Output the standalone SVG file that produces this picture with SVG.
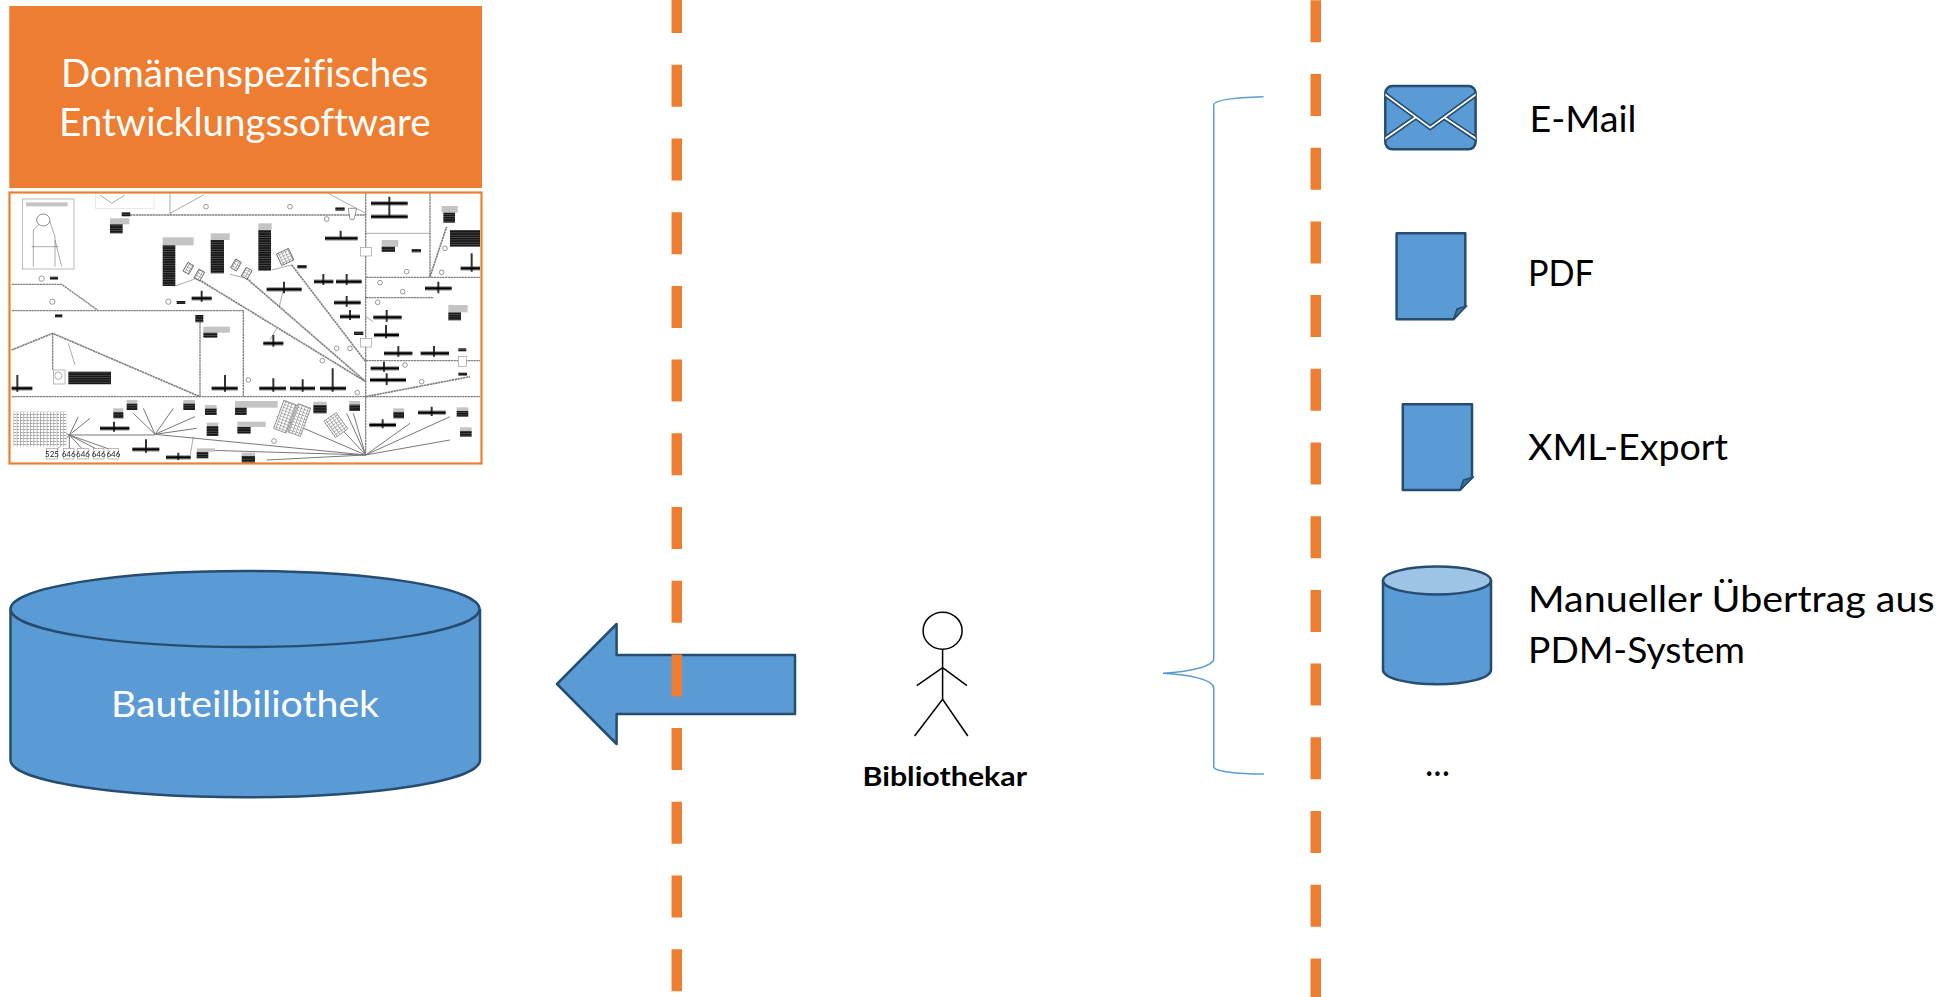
<svg xmlns="http://www.w3.org/2000/svg" width="1959" height="997" viewBox="0 0 1959 997">
<style>
text{font-family:Lato,"Noto Sans","Liberation Sans",sans-serif;font-variant-ligatures:none}
.w{fill:#fff}.k{fill:#000}
.blue{fill:#5B9BD5;stroke:#264D70;stroke-width:2.5;stroke-linejoin:round}
.dash{stroke:#ED7D31;stroke-width:10.5;stroke-dasharray:42 31.7;fill:none}
.st{fill:none;stroke:#000;stroke-width:1.5}
.br{fill:none;stroke:#5B9BD5;stroke-width:1.5}
.g1{fill:none;stroke:#808080;stroke-width:4;stroke-dasharray:7 1.5}
.g2{fill:none;stroke:#777;stroke-width:3}
.g3{fill:none;stroke:#555;stroke-width:1.5}
.bar{stroke:#000;stroke-width:7;fill:none}
.gb{fill:#c4c4c4}
.tb{fill:url(#st)}
.tag{font-size:24px;fill:#222;text-anchor:middle}
.bx{fill:#fff;stroke:#999;stroke-width:2}
</style>
<defs>
<pattern id="st" width="8" height="7" patternUnits="userSpaceOnUse"><rect width="8" height="7" fill="#111"/><rect y="4.500" width="8" height="1.400" fill="#888"/></pattern>
<pattern id="dn" width="10" height="9" patternUnits="userSpaceOnUse"><rect width="10" height="9" fill="#fff"/><rect width="8" height="2" fill="#777"/><rect width="2" height="9" fill="#999"/></pattern>
<clipPath id="cad"><rect x="9" y="192" width="473" height="272"/></clipPath>
<clipPath id="env"><rect x="1385.300" y="86" width="90.300" height="63.300" rx="7"/></clipPath>
<filter id="soft" x="0" y="0" width="100%" height="100%"><feGaussianBlur stdDeviation="1"/></filter>
</defs>
<rect width="1959" height="997" fill="#fff"/>

<g id="software">
<rect x="9.300" y="6" width="472.700" height="182" fill="#ED7D31"/>
<text class="w" font-size="39" x="61" y="87" textLength="367.300" lengthAdjust="spacingAndGlyphs">Domänenspezifisches</text>
<text class="w" font-size="39" x="59" y="136" textLength="371.700" lengthAdjust="spacingAndGlyphs">Entwicklungssoftware</text>
</g>

<g id="cad-drawing">
<rect x="9.500" y="192.500" width="472" height="271" fill="#fff"/>
<g clip-path="url(#cad)"><g transform="scale(.33333)" filter="url(#soft)">
<path class="g1" d="M390 645H1100M1097 580V1365M1290 580V830M1097 832H1440M1097 893H1300M35 853H185L295 932M35 932H730V1190M35 1190H1440M600 960V1190M158 1000V1110M1097 1082H1440"/>
<path class="g1" style="stroke-width:5" d="M35 1050L158 1000L600 1190M590 835L1097 1145M740 835L1097 1145M875 795L1097 1085M1097 1190L1410 1130M1290 830L1340 680"/>
<path class="g2" d="M1097 1365L830 1250M1097 1365L1000 1260M1097 1365L1040 1240M1097 1365L1060 1240M1097 1365L1230 1270M1097 1365L1350 1250M1097 1365L1350 1320M465 1303L1097 1365M600 1350L1097 1365M800 1380L1097 1365M208 1305H465M465 1303L400 1240M465 1303L430 1225M465 1303L520 1225M465 1303L585 1250M465 1303L590 1285M208 1305L235 1250M208 1305L270 1255M208 1305L170 1350M208 1305V1350M208 1305L250 1350M208 1305L295 1350M208 1305L335 1350M208 1305L130 1270"/>
<path class="g3" d="M510 580V645M510 640L610 585M985 580L1097 640M850 868L838 920M525 858L590 835M690 823L740 835M815 810L875 795M1097 700H1290M1097 950L1120 965M205 1030L225 1095M830 985L810 1020M580 1310L570 1370"/>
<g id="tees">
<path fill="none" stroke="#aaa" stroke-width="14" d="M1113 610H1223M1113 650H1223M975 715H1073M800 868H905M575 895H635M942 845H1000M1008 845H1085M1002 908H1082M1020 950H1080M1120 952H1205M1122 1005H1197M1275 865H1355M1152 1060H1237M1262 1060H1347M1112 1105H1197M1110 1140H1218M790 1030H850M635 1165H713M778 1165H858M870 1165H945M960 1165H1038M35 1165H97M300 1285H388M397 1348H478M498 1372H572M1108 1275H1188M1254 1238H1337M1382 805H1440"/>
<path fill="none" stroke="#333" stroke-width="6" d="M1168 590V650M1022 692V715M852 845V880M605 872V905M970 822V855M1040 822V855M1040 888V920M1050 930V960M1160 930V965M1158 975V1015M1315 845V880M1195 1038V1070M1302 1038V1070M1152 1085V1115M1160 1120V1155M820 1005V1040M675 1125V1175M820 1135V1175M908 1138V1175M998 1105V1175M52 1125V1175M342 1265V1295M438 1318V1358M535 1358V1380M1148 1258V1285M1295 1220V1248M1415 760V815"/>
<path class="bar" d="M1113 610H1223M1113 650H1223M975 715H1073M800 868H905M575 895H635M942 845H1000M1008 845H1085M1002 908H1082M1020 950H1080M1120 952H1205M1122 1005H1197M1275 865H1355M1152 1060H1237M1262 1060H1347M1112 1105H1197M1110 1140H1218M790 1030H850M635 1165H713M778 1165H858M870 1165H945M960 1165H1038M35 1165H97M300 1285H388M397 1348H478M498 1372H572M1108 1275H1188M1254 1238H1337M1382 805H1440"/>
</g>
<g id="blocks">
<rect class="gb" x="488" y="712" width="93" height="24"/><rect class="gb" x="632" y="700" width="57" height="20"/><rect class="gb" x="775" y="670" width="40" height="20"/><rect class="gb" x="610" y="980" width="80" height="18"/><rect class="gb" x="705" y="1203" width="128" height="20"/><rect class="gb" x="712" y="1265" width="85" height="16"/><rect class="gb" x="330" y="655" width="58" height="18"/><rect class="gb" x="1325" y="618" width="48" height="20"/><rect class="gb" x="1145" y="720" width="50" height="20"/><rect class="gb" x="1345" y="915" width="58" height="22"/>
<rect class="tb" x="488" y="736" width="38" height="122"/><rect class="tb" x="632" y="720" width="40" height="100"/><rect class="tb" x="775" y="690" width="38" height="122"/><rect class="tb" x="330" y="673" width="38" height="27"/><rect class="tb" x="1330" y="638" width="35" height="30"/><rect class="tb" x="1145" y="740" width="40" height="16"/><rect class="tb" x="1345" y="937" width="38" height="24"/><rect class="tb" x="1350" y="690" width="90" height="50"/><rect class="tb" x="205" y="1115" width="128" height="38"/><rect class="tb" x="610" y="998" width="42" height="15"/><rect class="tb" x="705" y="1223" width="35" height="22"/><rect class="tb" x="712" y="1281" width="40" height="20"/><rect class="tb" x="940" y="1215" width="40" height="25"/><rect class="tb" x="1048" y="1213" width="32" height="20"/><rect class="tb" x="340" y="1235" width="30" height="20"/><rect class="tb" x="380" y="1210" width="32" height="20"/><rect class="tb" x="550" y="1210" width="35" height="20"/><rect class="tb" x="615" y="1225" width="35" height="20"/><rect class="tb" x="620" y="1278" width="35" height="30"/><rect class="tb" x="590" y="1355" width="35" height="20"/><rect class="tb" x="725" y="1368" width="40" height="20"/><rect class="tb" x="1180" y="1235" width="32" height="20"/><rect class="tb" x="1370" y="1232" width="35" height="18"/><rect class="tb" x="1380" y="1292" width="35" height="18"/>
<g fill="#c4c4c4"><rect x="940" y="1205" width="40" height="10"/><rect x="1048" y="1203" width="32" height="10"/><rect x="340" y="1225" width="30" height="10"/><rect x="380" y="1200" width="32" height="10"/><rect x="550" y="1200" width="35" height="10"/><rect x="615" y="1215" width="35" height="10"/><rect x="620" y="1268" width="35" height="10"/><rect x="590" y="1345" width="55" height="10"/><rect x="725" y="1358" width="40" height="10"/><rect x="1180" y="1225" width="32" height="10"/><rect x="1370" y="1222" width="35" height="10"/><rect x="1380" y="1282" width="35" height="10"/></g>
<g fill="url(#dn)" stroke="#444" stroke-width="2"><rect transform="rotate(30 565 805)" x="555" y="790" width="20" height="30"/><rect transform="rotate(30 598 825)" x="588" y="810" width="20" height="30"/><rect transform="rotate(30 708 795)" x="698" y="780" width="20" height="30"/><rect transform="rotate(30 740 820)" x="730" y="805" width="20" height="30"/><rect transform="rotate(-25 855 770)" x="835" y="752" width="40" height="38"/></g>
<rect fill="url(#dn)" stroke="#777" stroke-width="2" transform="rotate(20 855 1250)" x="835" y="1205" width="40" height="90"/><rect fill="url(#dn)" stroke="#777" stroke-width="2" transform="rotate(20 898 1260)" x="878" y="1215" width="40" height="90"/><rect fill="url(#dn)" stroke="#777" stroke-width="2" transform="rotate(-35 1008 1275)" x="985" y="1245" width="45" height="60"/>
<rect fill="url(#dn)" x="40" y="1235" width="160" height="105"/>
</g>
<g id="details">
<rect x="68" y="597" width="154" height="210" fill="#fff" stroke="#999" stroke-width="2"/>
<path class="g3" d="M100 800V690L125 665H150L165 710V800M95 740H175M185 800L165 720"/>
<ellipse cx="130" cy="660" rx="20" ry="18" fill="#fff" stroke="#555" stroke-width="2"/>
<rect class="gb" x="78" y="607" width="125" height="12"/>
<rect x="287" y="575" width="175" height="50" fill="#fff" stroke="#ddd" stroke-width="2"/>
<path class="g3" d="M300 585L335 610L375 585"/>
<rect x="160" y="1110" width="35" height="42" class="bx"/><circle cx="175" cy="1127" r="11" fill="none" stroke="#888" stroke-width="2"/>
<rect x="1082" y="742" width="32" height="26" class="bx"/><rect x="1082" y="1015" width="32" height="26" class="bx"/><rect x="1375" y="1070" width="24" height="30" class="bx"/>
<g fill="#fff" stroke="#666" stroke-width="2"><circle cx="125" cy="836" r="8"/><circle cx="157" cy="905" r="8"/><circle cx="505" cy="905" r="8"/><circle cx="618" cy="620" r="7"/><circle cx="870" cy="620" r="7"/><circle cx="980" cy="657" r="7"/><circle cx="1140" cy="848" r="7"/><circle cx="1133" cy="907" r="7"/><circle cx="1208" cy="875" r="7"/><circle cx="1220" cy="815" r="7"/><circle cx="1335" cy="745" r="7"/><circle cx="1010" cy="1045" r="7"/><circle cx="1050" cy="1045" r="7"/><circle cx="967" cy="1082" r="7"/><circle cx="745" cy="1140" r="7"/><circle cx="1072" cy="1178" r="7"/><circle cx="1215" cy="1095" r="7"/><circle cx="1265" cy="1145" r="7"/><circle cx="822" cy="1323" r="7"/><circle cx="1325" cy="817" r="7"/></g>
<path fill="#fff" stroke="#666" stroke-width="2" d="M1045 625H1070L1062 658H1050Z"/>
<rect class="tb" x="1006" y="622" width="28" height="10"/><rect class="tb" x="365" y="637" width="26" height="12"/><rect class="tb" x="150" y="830" width="24" height="9"/><rect class="tb" x="530" y="903" width="26" height="9"/><rect class="tb" x="165" y="943" width="22" height="9"/><rect class="tb" x="586" y="945" width="24" height="22"/><rect class="tb" x="1062" y="995" width="28" height="10"/><rect class="tb" x="1235" y="747" width="28" height="10"/><rect class="tb" x="892" y="795" width="28" height="10"/><rect class="tb" x="1375" y="1045" width="24" height="9"/><rect class="tb" x="1375" y="1118" width="26" height="9"/>
<g class="bx"><rect x="140" y="1345" width="32" height="32"/><rect x="190" y="1345" width="32" height="32"/><rect x="233" y="1345" width="32" height="32"/><rect x="280" y="1345" width="32" height="32"/><rect x="324" y="1345" width="32" height="32"/></g>
<text class="tag" x="156" y="1370">525</text><text class="tag" x="206" y="1370">646</text><text class="tag" x="249" y="1370">646</text><text class="tag" x="296" y="1370">646</text><text class="tag" x="340" y="1370">646</text>
</g>
</g></g>
<rect x="9.500" y="192.500" width="472" height="271" fill="none" stroke="#ED7D31" stroke-width="2.200"/>
</g>

<g id="bibliothek">
<path class="blue" d="M10.500 609V760C10.500 781 116 797.300 245 797.300S480 781 480 760V609"/>
<ellipse class="blue" cx="245" cy="609" rx="234.500" ry="38"/>
<text class="w" font-size="37" x="111" y="716.500" textLength="268" lengthAdjust="spacingAndGlyphs">Bauteilbiliothek</text>
</g>

<g id="connectors">
<path id="arrow" class="blue" d="M557 684L616.600 624V655H795V714H616.600V744Z"/>
<line class="dash" x1="676.800" y1="-8.900" x2="676.800" y2="997"/>
<line class="dash" x1="1315.800" y1="0.300" x2="1315.800" y2="1000"/>
<path id="brace" class="br" d="M1263.500 96.700C1235 97.500 1213.700 100 1213.700 105V659C1213.700 666 1190 672 1163 673.300C1190 674.500 1213.700 680 1213.700 688V766.700C1213.700 771 1235 774 1264 774"/>
</g>

<g id="bibliothekar">
<ellipse class="st" cx="942.600" cy="630.700" rx="19.500" ry="18.500"/>
<path class="st" d="M942.600 649V699.300M916.800 685.700L942.600 667.700L967 685.700M914.600 736L942.600 699.300L967.800 736"/>
<text class="k" font-size="27" font-weight="700" x="862.500" y="785.700" textLength="164.500" lengthAdjust="spacingAndGlyphs">Bibliothekar</text>
</g>

<g id="email">
<rect class="blue" x="1385.300" y="86" width="90.300" height="63.300" rx="7"/>
<g clip-path="url(#env)" fill="none">
<path stroke="#264D70" stroke-width="5" d="M1383 93L1430.200 127.700L1478 93M1383 140L1415.700 117.300M1478 140L1444 117.300"/>
<path stroke="#fff" stroke-width="1.800" d="M1383 93L1430.200 127.700L1478 93M1383 140L1415.700 117.300M1478 140L1444 117.300"/>
</g>
<text class="k" font-size="36" x="1529.500" y="131.700" textLength="107" lengthAdjust="spacingAndGlyphs">E-Mail</text>
</g>

<g id="pdf">
<path class="blue" d="M1396.600 233.300H1465.300V306L1453.400 319.300H1396.600Z"/>
<path d="M1466.800 306L1457 309L1453.400 319.300Z" fill="#3F6F9C" stroke="#264D70" stroke-width="1.500" stroke-linejoin="round"/>
<text class="k" font-size="36" x="1528" y="286" textLength="66" lengthAdjust="spacingAndGlyphs">PDF</text>
</g>

<g id="xml">
<path class="blue" d="M1402.800 404.300H1472V477L1460 490H1402.800Z"/>
<path d="M1473.500 477L1463.500 480L1460 490Z" fill="#3F6F9C" stroke="#264D70" stroke-width="1.500" stroke-linejoin="round"/>
<text class="k" font-size="36" x="1528" y="460" textLength="200" lengthAdjust="spacingAndGlyphs">XML-Export</text>
</g>

<g id="pdm">
<path class="blue" d="M1383 580.500V670C1383 678 1407 684.300 1437 684.300S1491 678 1491 670V580.500"/>
<ellipse cx="1437" cy="580.500" rx="54" ry="14" fill="#9DC3E6" stroke="#264D70" stroke-width="2.500"/>
<text class="k" font-size="36" x="1528" y="611.700" textLength="406.500" lengthAdjust="spacingAndGlyphs">Manueller Übertrag aus</text>
<text class="k" font-size="36" x="1528" y="662.700" textLength="217" lengthAdjust="spacingAndGlyphs">PDM-System</text>
</g>

<g id="more">
<text class="k" font-size="36" x="1425" y="776" textLength="25" lengthAdjust="spacingAndGlyphs">...</text>
</g>
</svg>
